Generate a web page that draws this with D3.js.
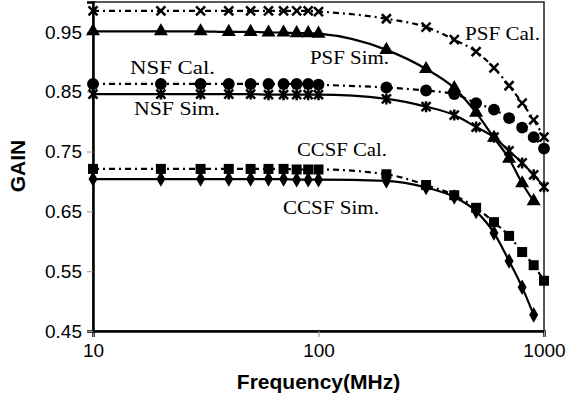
<!DOCTYPE html>
<html>
<head>
<meta charset="utf-8">
<script src="https://cdn.jsdelivr.net/npm/d3@7"></script>
<style>
  body { margin: 0; background: #fff; }
  svg { display: block; }
</style>
</head>
<body>
<div id="chart"></div>
<script>
// frequencies (MHz)
const freq = [10, 20, 30, 40, 50, 60, 70, 80, 90, 100, 200, 300, 400, 500, 600, 700, 800, 900, 1000];

// gain values
const psfCal  = [0.985, 0.985, 0.985, 0.985, 0.985, 0.985, 0.985, 0.985, 0.985, 0.984, 0.972, 0.958, 0.937, 0.917, 0.890, 0.860, 0.831, 0.803, 0.774];
const psfSim  = [0.951, 0.951, 0.951, 0.950, 0.950, 0.949, 0.949, 0.948, 0.948, 0.947, 0.920, 0.888, 0.856, 0.815, 0.773, 0.738, 0.697, 0.667];
const nsfCal  = [0.863, 0.863, 0.863, 0.863, 0.863, 0.863, 0.863, 0.863, 0.863, 0.862, 0.857, 0.852, 0.846, 0.831, 0.820, 0.806, 0.790, 0.774, 0.755];
const nsfSim  = [0.846, 0.846, 0.846, 0.846, 0.846, 0.845, 0.845, 0.845, 0.845, 0.845, 0.838, 0.825, 0.811, 0.791, 0.774, 0.751, 0.731, 0.711, 0.691];
const ccsfCal = [0.721, 0.721, 0.721, 0.721, 0.721, 0.721, 0.721, 0.720, 0.720, 0.720, 0.712, 0.694, 0.677, 0.656, 0.632, 0.609, 0.582, 0.560, 0.534];
const ccsfSim = [0.704, 0.704, 0.704, 0.704, 0.704, 0.704, 0.704, 0.703, 0.703, 0.703, 0.701, 0.690, 0.674, 0.650, 0.614, 0.567, 0.523, 0.477];

const yTicks = [0.45, 0.55, 0.65, 0.75, 0.85, 0.95];
const xTicks = [10, 100, 1000];

// series: values, marker, dashed (Cal) or solid (Sim)
const serije = [
  { ime: "CCSF Sim.", vrijednosti: ccsfSim, marker: "diamond", cal: false },
  { ime: "CCSF Cal.", vrijednosti: ccsfCal, marker: "square", cal: true },
  { ime: "NSF Sim.",  vrijednosti: nsfSim,  marker: "star",   cal: false },
  { ime: "NSF Cal.",  vrijednosti: nsfCal,  marker: "circle", cal: true },
  { ime: "PSF Sim.",  vrijednosti: psfSim,  marker: "triangle", cal: false },
  { ime: "PSF Cal.",  vrijednosti: psfCal,  marker: "x",      cal: true }
];

// text labels on the plot
const oznake = [
  { tekst: "PSF Cal.",  x: 465, y: 40,  w: 75 },
  { tekst: "PSF Sim.",  x: 310, y: 64,  w: 79 },
  { tekst: "NSF Cal.",  x: 130, y: 74,  w: 85 },
  { tekst: "NSF Sim.",  x: 134, y: 115, w: 86 },
  { tekst: "CCSF Cal.", x: 297, y: 156, w: 90 },
  { tekst: "CCSF Sim.", x: 283, y: 214, w: 96 }
];

const dimenzije = {
  sirina: 568,
  visina: 403,
  margine: { top: 2, right: 24, bottom: 72, left: 93 }
};
dimenzije.grSirina = dimenzije.sirina - dimenzije.margine.left - dimenzije.margine.right;
dimenzije.grVisina = dimenzije.visina - dimenzije.margine.top - dimenzije.margine.bottom;

const okvir = d3.select("#chart").append("svg")
  .attr("width", dimenzije.sirina)
  .attr("height", dimenzije.visina);

const granice = okvir.append("g")
  .attr("transform", `translate(${dimenzije.margine.left},${dimenzije.margine.top})`);

const xSkala = d3.scaleLog()
  .domain([10, 1000])
  .range([0, dimenzije.grSirina]);

const ySkala = d3.scaleLinear()
  .domain([0.45, 1.0])
  .range([dimenzije.grVisina, 0]);

// plot frame (top / right)
granice.append("rect")
  .attr("x", 0).attr("y", 0)
  .attr("width", dimenzije.grSirina)
  .attr("height", dimenzije.grVisina)
  .attr("fill", "none")
  .attr("stroke", "#222")
  .attr("stroke-width", 1.5);

// axes
const xOs = granice.append("g")
  .attr("transform", `translate(0,${dimenzije.grVisina})`)
  .call(d3.axisBottom(xSkala).tickValues(xTicks).tickFormat(d3.format("d")).tickSize(6).tickPadding(7));
xOs.select(".domain").attr("stroke", "#000").attr("stroke-width", 2.5);
xOs.selectAll(".tick line").attr("stroke", "#999");
xOs.selectAll(".tick text")
  .attr("font-family", "Liberation Sans, Arial, sans-serif")
  .attr("font-size", 19)
  .attr("fill", "#000");

const yOs = granice.append("g")
  .call(d3.axisLeft(ySkala).tickValues(yTicks).tickFormat(d3.format(".2f")).tickSize(6).tickPadding(5));
yOs.select(".domain").attr("stroke", "#000").attr("stroke-width", 2.5);
yOs.selectAll(".tick line").attr("stroke", "#999");
yOs.selectAll(".tick text")
  .attr("font-family", "Liberation Sans, Arial, sans-serif")
  .attr("font-size", 19)
  .attr("fill", "#000");

// axis titles
okvir.append("text")
  .attr("x", dimenzije.margine.left + xSkala(100))
  .attr("y", 389)
  .attr("text-anchor", "middle")
  .attr("font-family", "Liberation Sans, Arial, sans-serif")
  .attr("font-weight", "bold")
  .attr("font-size", 21)
  .text("Frequency(MHz)");

okvir.append("text")
  .attr("transform", "translate(25,166) rotate(-90)")
  .attr("text-anchor", "middle")
  .attr("font-family", "Liberation Sans, Arial, sans-serif")
  .attr("font-weight", "bold")
  .attr("font-size", 21)
  .text("GAIN");

// lines
const linija = d3.line()
  .x(d => xSkala(d.f))
  .y(d => ySkala(d.v))
  .curve(d3.curveMonotoneX);

const simboli = {
  diamond: d3.symbol().type(d3.symbolDiamond).size(70),
  square: d3.symbol().type(d3.symbolSquare).size(100),
  circle: d3.symbol().type(d3.symbolCircle).size(110),
  triangle: d3.symbol().type(d3.symbolTriangle).size(85)
};

serije.forEach(s => {
  const podatci = s.vrijednosti.map((v, i) => ({ f: freq[i], v: v }));

  granice.append("path")
    .datum(podatci)
    .attr("d", linija)
    .attr("fill", "none")
    .attr("stroke", "#000")
    .attr("stroke-width", 2.2)
    .attr("stroke-dasharray", s.cal ? "6,4,2,4" : null);

  const g = granice.append("g");
  podatci.forEach(d => {
    const cx = xSkala(d.f), cy = ySkala(d.v);
    if (s.marker === "x" || s.marker === "star") {
      const r = 4.5;
      let p = `M${cx - r},${cy - r}L${cx + r},${cy + r}M${cx - r},${cy + r}L${cx + r},${cy - r}`;
      if (s.marker === "star") p += `M${cx},${cy - r - 1}L${cx},${cy + r + 1}`;
      g.append("path")
        .attr("d", p)
        .attr("stroke", "#000")
        .attr("stroke-width", 2.5)
        .attr("fill", "none");
    } else {
      g.append("path")
        .attr("d", simboli[s.marker]())
        .attr("transform", `translate(${cx},${cy})`)
        .attr("fill", "#000");
    }
  });
});

// series labels (Times-like)
oznake.forEach(o => {
  okvir.append("text")
    .attr("x", o.x)
    .attr("y", o.y)
    .attr("font-family", "Liberation Serif, Times New Roman, serif")
    .attr("font-size", 18)
    .attr("textLength", o.w)
    .attr("lengthAdjust", "spacingAndGlyphs")
    .attr("fill", "#000")
    .text(o.tekst);
});
</script>
</body>
</html>
